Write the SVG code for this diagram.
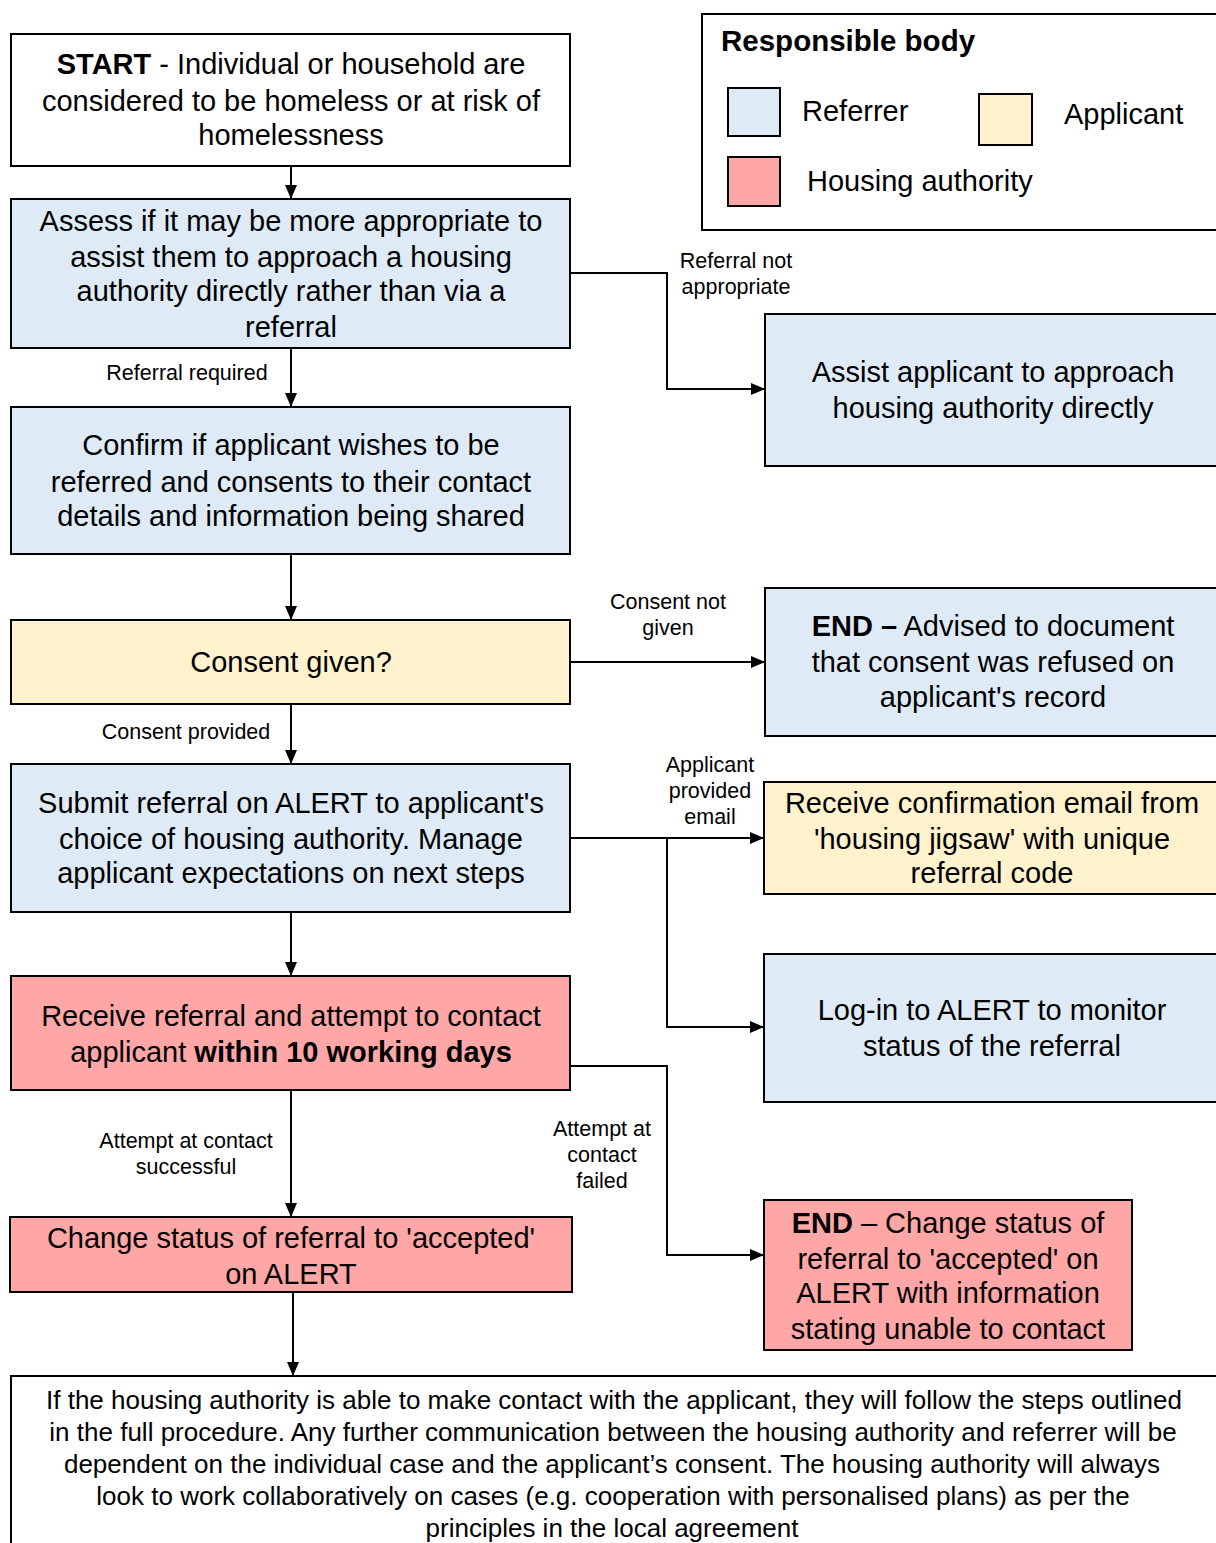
<svg xmlns="http://www.w3.org/2000/svg" width="1216" height="1543" viewBox="0 0 1216 1543">
<style>
.box{stroke:#000;stroke-width:2}
.w{fill:#fff}.b{fill:#deebf7}.y{fill:#fff2cc}.r{fill:#ffa6a6}
.t{font-family:"Liberation Sans",Arial,sans-serif;font-size:29px;fill:#000;text-anchor:middle}
.lg{font-family:"Liberation Sans",Arial,sans-serif;font-size:29px;fill:#000}
.l{font-family:"Liberation Sans",Arial,sans-serif;font-size:21.5px;fill:#000;text-anchor:middle}
.n{font-family:"Liberation Sans",Arial,sans-serif;font-size:26px;fill:#000;text-anchor:middle}
.bd{font-weight:bold}
.c{fill:none;stroke:#000;stroke-width:2}
</style>
<defs>
<marker id="ah" markerWidth="14" markerHeight="12" refX="14" refY="6" orient="auto" markerUnits="userSpaceOnUse">
<path d="M0,0 L14,6 L0,12 Z" fill="#000"/>
</marker>
</defs>
<rect width="1216" height="1543" fill="#fff"/>

<g id="legend">
<rect class="box w" x="702" y="14" width="520" height="216"/>
<text class="lg bd" x="721" y="51" style="font-size:29.5px">Responsible body</text>
<rect class="box b" x="728" y="88" width="52" height="48"/>
<text class="lg" x="802" y="121">Referrer</text>
<rect class="box y" x="979" y="94" width="53" height="51"/>
<text class="lg" x="1064" y="124">Applicant</text>
<rect class="box r" x="728" y="157" width="52" height="49"/>
<text class="lg" x="807" y="191">Housing authority</text>
</g>

<g id="connectors">
<line class="c" x1="291" y1="166" x2="291" y2="199" marker-end="url(#ah)"/>
<line class="c" x1="291" y1="348" x2="291" y2="407" marker-end="url(#ah)"/>
<polyline class="c" points="570,273 667,273 667,389 765,389" marker-end="url(#ah)"/>
<line class="c" x1="291" y1="554" x2="291" y2="620" marker-end="url(#ah)"/>
<line class="c" x1="570" y1="662" x2="765" y2="662" marker-end="url(#ah)"/>
<line class="c" x1="291" y1="704" x2="291" y2="764" marker-end="url(#ah)"/>
<line class="c" x1="570" y1="838" x2="764" y2="838" marker-end="url(#ah)"/>
<polyline class="c" points="667,838 667,1027 764,1027" marker-end="url(#ah)"/>
<line class="c" x1="291" y1="912" x2="291" y2="976" marker-end="url(#ah)"/>
<polyline class="c" points="570,1066 667,1066 667,1255 764,1255" marker-end="url(#ah)"/>
<line class="c" x1="291" y1="1090" x2="291" y2="1217" marker-end="url(#ah)"/>
<line class="c" x1="293" y1="1292" x2="293" y2="1376" marker-end="url(#ah)"/>
<text class="l" x="736" y="268">Referral not</text>
<text class="l" x="736" y="294">appropriate</text>
<text class="l" x="187" y="380">Referral required</text>
<text class="l" x="668" y="609">Consent not</text>
<text class="l" x="668" y="635">given</text>
<text class="l" x="186" y="739">Consent provided</text>
<text class="l" x="710" y="772">Applicant</text>
<text class="l" x="710" y="798">provided</text>
<text class="l" x="710" y="824">email</text>
<text class="l" x="602" y="1136">Attempt at</text>
<text class="l" x="602" y="1162">contact</text>
<text class="l" x="602" y="1188">failed</text>
<text class="l" x="186" y="1148">Attempt at contact</text>
<text class="l" x="186" y="1174">successful</text>
</g>

<g id="start">
<rect class="box w" x="11" y="34" width="559" height="132"/>
<text class="t" x="291" y="74"><tspan class="bd">START</tspan> - Individual or household are</text>
<text class="t" x="291" y="111">considered to be homeless or at risk of</text>
<text class="t" x="291" y="145">homelessness</text>
</g>

<g id="assess">
<rect class="box b" x="11" y="199" width="559" height="149"/>
<text class="t" x="291" y="231">Assess if it may be more appropriate to</text>
<text class="t" x="291" y="267">assist them to approach a housing</text>
<text class="t" x="291" y="301">authority directly rather than via a</text>
<text class="t" x="291" y="337">referral</text>
</g>

<g id="assist">
<rect class="box b" x="765" y="314" width="460" height="152"/>
<text class="t" x="993" y="382">Assist applicant to approach</text>
<text class="t" x="993" y="418">housing authority directly</text>
</g>

<g id="confirm">
<rect class="box b" x="11" y="407" width="559" height="147"/>
<text class="t" x="291" y="455">Confirm if applicant wishes to be</text>
<text class="t" x="291" y="492">referred and consents to their contact</text>
<text class="t" x="291" y="526">details and information being shared</text>
</g>

<g id="consent">
<rect class="box y" x="11" y="620" width="559" height="84"/>
<text class="t" x="291" y="672">Consent given?</text>
</g>

<g id="end-refused">
<rect class="box b" x="765" y="588" width="460" height="148"/>
<text class="t" x="993" y="636"><tspan class="bd">END –</tspan> Advised to document</text>
<text class="t" x="993" y="672">that consent was refused on</text>
<text class="t" x="993" y="707">applicant's record</text>
</g>

<g id="submit">
<rect class="box b" x="11" y="764" width="559" height="148"/>
<text class="t" x="291" y="813">Submit referral on ALERT to applicant's</text>
<text class="t" x="291" y="849">choice of housing authority. Manage</text>
<text class="t" x="291" y="883">applicant expectations on next steps</text>
</g>

<g id="confirmation-email">
<rect class="box y" x="764" y="782" width="460" height="112"/>
<text class="t" x="992" y="813">Receive confirmation email from</text>
<text class="t" x="992" y="849">'housing jigsaw' with unique</text>
<text class="t" x="992" y="883">referral code</text>
</g>

<g id="login">
<rect class="box b" x="764" y="954" width="460" height="148"/>
<text class="t" x="992" y="1020">Log-in to ALERT to monitor</text>
<text class="t" x="992" y="1056">status of the referral</text>
</g>

<g id="receive-referral">
<rect class="box r" x="11" y="976" width="559" height="114"/>
<text class="t" x="291" y="1026">Receive referral and attempt to contact</text>
<text class="t" x="291" y="1062">applicant <tspan class="bd">within 10 working days</tspan></text>
</g>

<g id="end-unable">
<rect class="box r" x="764" y="1200" width="368" height="150"/>
<text class="t" x="948" y="1233"><tspan class="bd">END</tspan> – Change status of</text>
<text class="t" x="948" y="1269">referral to 'accepted' on</text>
<text class="t" x="948" y="1303">ALERT with information</text>
<text class="t" x="948" y="1339">stating unable to contact</text>
</g>

<g id="accepted">
<rect class="box r" x="10" y="1217" width="562" height="75"/>
<text class="t" x="291" y="1248">Change status of referral to 'accepted'</text>
<text class="t" x="291" y="1284">on ALERT</text>
</g>

<g id="note">
<rect class="box w" x="11" y="1376" width="1215" height="180"/>
<text class="n" x="614" y="1409">If the housing authority is able to make contact with the applicant, they will follow the steps outlined</text>
<text class="n" x="613" y="1441">in the full procedure. Any further communication between the housing authority and referrer will be</text>
<text class="n" x="612" y="1473">dependent on the individual case and the applicant’s consent. The housing authority will always</text>
<text class="n" x="613" y="1505">look to work collaboratively on cases (e.g. cooperation with personalised plans) as per the</text>
<text class="n" x="612" y="1537">principles in the local agreement</text>
</g>
</svg>
